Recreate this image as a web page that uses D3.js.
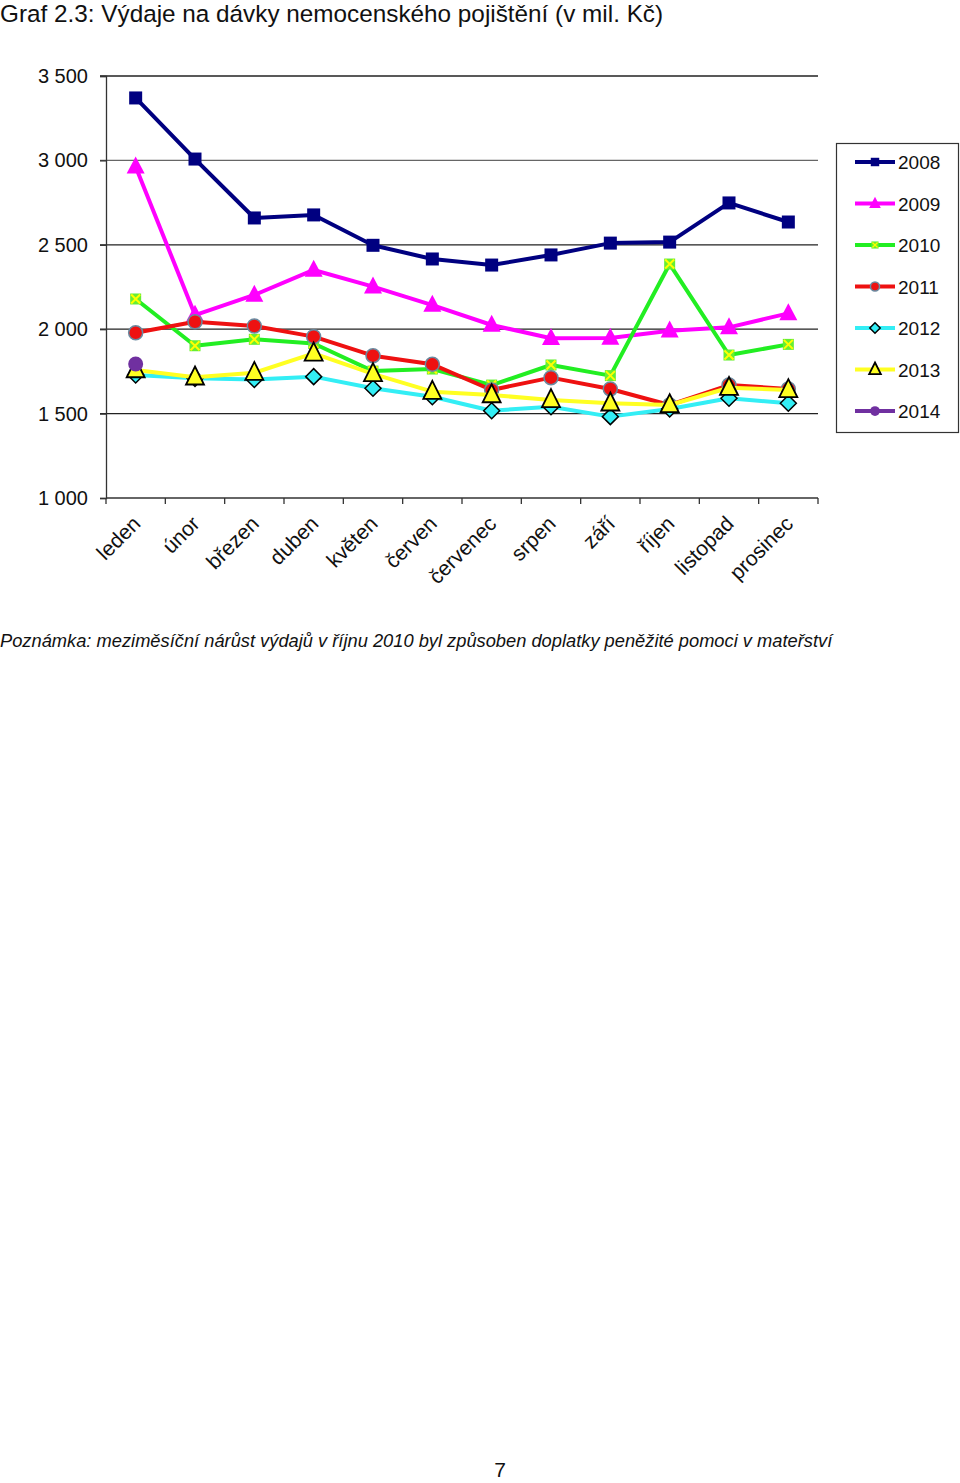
<!DOCTYPE html>
<html><head><meta charset="utf-8">
<script src="https://cdn.jsdelivr.net/npm/d3@7"></script>
<style>
body{margin:0;background:#fff;}
svg text{font-family:"Liberation Sans",Arial,sans-serif;}
</style></head>
<body>
<svg id="c" width="960" height="1483"></svg>
<script>
const months = ["leden","únor","březen","duben","květen","červen","červenec","srpen","září","říjen","listopad","prosinec"];
const yTicks = [1000,1500,2000,2500,3000,3500];
const s2008 = [3370,3008,2659,2677,2497,2416,2380,2440,2510,2516,2748,2635];
const s2009 = [2963,2084,2203,2351,2252,2143,2025,1946,1948,1991,2011,2094];
const s2010 = [2179,1902,1940,1915,1752,1764,1669,1788,1725,2386,1847,1910];
const s2011 = [1979,2044,2019,1956,1843,1792,1640,1713,1646,1551,1669,1646];
const s2012 = [1729,1709,1702,1719,1650,1600,1517,1541,1482,1527,1591,1561];
const s2013 = [1758,1715,1742,1857,1735,1630,1610,1581,1561,1551,1653,1640];
const s2014 = [1794];
const seriesNames = ["2008","2009","2010","2011","2012","2013","2014"];

const series = [
  {name:"2008", values:s2008, color:"#000080", marker:"square"},
  {name:"2009", values:s2009, color:"#ff00ff", marker:"triangle"},
  {name:"2010", values:s2010, color:"#22ee22", marker:"xsquare"},
  {name:"2011", values:s2011, color:"#ee1111", marker:"circle"},
  {name:"2012", values:s2012, color:"#33eef5", marker:"diamond"},
  {name:"2013", values:s2013, color:"#ffff22", marker:"otriangle"},
  {name:"2014", values:s2014, color:"#7030a0", marker:"circle2"}
];

const svg = d3.select("#c");
const x = d3.scaleBand().domain(months).range([106,818]);
const y = d3.scaleLinear().domain([1000,3500]).range([498,76]);

// title
svg.append("text").attr("x",0).attr("y",22).attr("font-size",24.3).attr("fill","#111").text("Graf 2.3: Výdaje na dávky nemocenského pojištění (v mil. Kč)");

// gridlines
svg.append("g").selectAll("line").data(yTicks.slice(1)).join("line")
  .attr("x1",100).attr("x2",818).attr("y1",d=>y(d)).attr("y2",d=>y(d))
  .attr("stroke",d=>d===3000?"#666":"#222").attr("stroke-width",1.3);

// y axis
const yAxis = d3.axisLeft(y).tickValues(yTicks).tickSize(6).tickPadding(12)
  .tickFormat(d=>d3.format(",")(d).replace(","," "));
const gy = svg.append("g").attr("transform","translate(106,0)").call(yAxis);
gy.select(".domain").attr("stroke","#333").attr("stroke-width",1.3);
gy.selectAll(".tick line").attr("stroke","#333").attr("stroke-width",1.3);
gy.selectAll("text").attr("font-size",20).attr("fill","#111").attr("font-family","Liberation Sans, Arial, sans-serif");

// x axis
const gx = svg.append("g").attr("transform","translate(0,498)");
gx.append("line").attr("x1",106).attr("x2",818).attr("y1",0).attr("y2",0).attr("stroke","#333").attr("stroke-width",1.3);
const bounds = months.map(m=>x(m)).concat([x.range()[1]]);
gx.selectAll("line.t").data(bounds).join("line").attr("class","t")
  .attr("x1",d=>d).attr("x2",d=>d).attr("y1",0).attr("y2",6).attr("stroke","#333").attr("stroke-width",1.3);
gx.selectAll("text").data(months).join("text")
  .attr("transform",d=>`translate(${x(d)+x.bandwidth()/2+6},${27}) rotate(-45)`)
  .attr("text-anchor","end").attr("font-size",21).attr("fill","#111").text(d=>d);

const cx = (i)=>x(months[i])+x.bandwidth()/2;

function drawMarker(g, type, color, px, py, scale){
  scale = scale||1;
  if(type==="square"){
    const s=13*scale;
    g.append("rect").attr("x",px-s/2).attr("y",py-s/2).attr("width",s).attr("height",s).attr("fill",color);
  } else if(type==="triangle"){
    const w=18*scale,h=17*scale;
    g.append("path").attr("d",`M${px},${py-h*0.6}L${px+w/2},${py+h*0.4}L${px-w/2},${py+h*0.4}Z`).attr("fill",color);
  } else if(type==="xsquare"){
    const s=11*scale;
    g.append("rect").attr("x",px-s/2).attr("y",py-s/2).attr("width",s).attr("height",s).attr("fill","#66ee33");
    g.append("path").attr("d",`M${px-s/2+1},${py-s/2+1}L${px+s/2-1},${py+s/2-1}M${px+s/2-1},${py-s/2+1}L${px-s/2+1},${py+s/2-1}`)
      .attr("stroke","#ffff00").attr("stroke-width",2*scale);
  } else if(type==="circle"){
    g.append("circle").attr("cx",px).attr("cy",py).attr("r",7*scale).attr("fill",color).attr("stroke","#6a8aa0").attr("stroke-width",1.5);
  } else if(type==="circle2"){
    g.append("circle").attr("cx",px).attr("cy",py).attr("r",7.5*scale).attr("fill",color);
  } else if(type==="diamond"){
    const r=8*scale;
    g.append("path").attr("d",`M${px},${py-r}L${px+r},${py}L${px},${py+r}L${px-r},${py}Z`).attr("fill",color).attr("stroke","#000").attr("stroke-width",1.5);
  } else if(type==="otriangle"){
    const w=18*scale,h=18*scale;
    g.append("path").attr("d",`M${px},${py-h*0.6}L${px+w/2},${py+h*0.4}L${px-w/2},${py+h*0.4}Z`).attr("fill",color).attr("stroke","#000").attr("stroke-width",1.8);
  }
}

const line = d3.line().x((d,i)=>cx(i)).y(d=>y(d));
series.forEach(s=>{
  const g = svg.append("g");
  g.append("path").attr("d",line(s.values)).attr("fill","none").attr("stroke",s.color).attr("stroke-width",4).attr("stroke-linejoin","round");
  s.values.forEach((v,i)=>drawMarker(g,s.marker,s.color,cx(i),y(v)));
});

// legend
const lg = svg.append("g");
lg.append("rect").attr("x",836.5).attr("y",143.5).attr("width",122).attr("height",289).attr("fill","#fff").attr("stroke","#333").attr("stroke-width",1.2);
const ly = d3.scalePoint().domain(seriesNames).range([162,411]);
series.forEach(s=>{
  const yy = ly(s.name);
  lg.append("line").attr("x1",855).attr("x2",895).attr("y1",yy).attr("y2",yy).attr("stroke",s.color).attr("stroke-width",4);
  drawMarker(lg,s.marker,s.color,875,yy,0.65);
  lg.append("text").attr("x",898).attr("y",yy+7).attr("font-size",19).attr("fill","#111").text(s.name);
});

// note
svg.append("text").attr("x",0).attr("y",647).attr("font-size",18.3).attr("font-style","italic").attr("fill","#111")
  .text("Poznámka: meziměsíční nárůst výdajů v říjnu 2010 byl způsoben doplatky peněžité pomoci v mateřství");

// page number
svg.append("text").attr("x",500).attr("y",1477).attr("text-anchor","middle").attr("font-size",21).attr("fill","#111").text("7");
</script>
</body></html>
